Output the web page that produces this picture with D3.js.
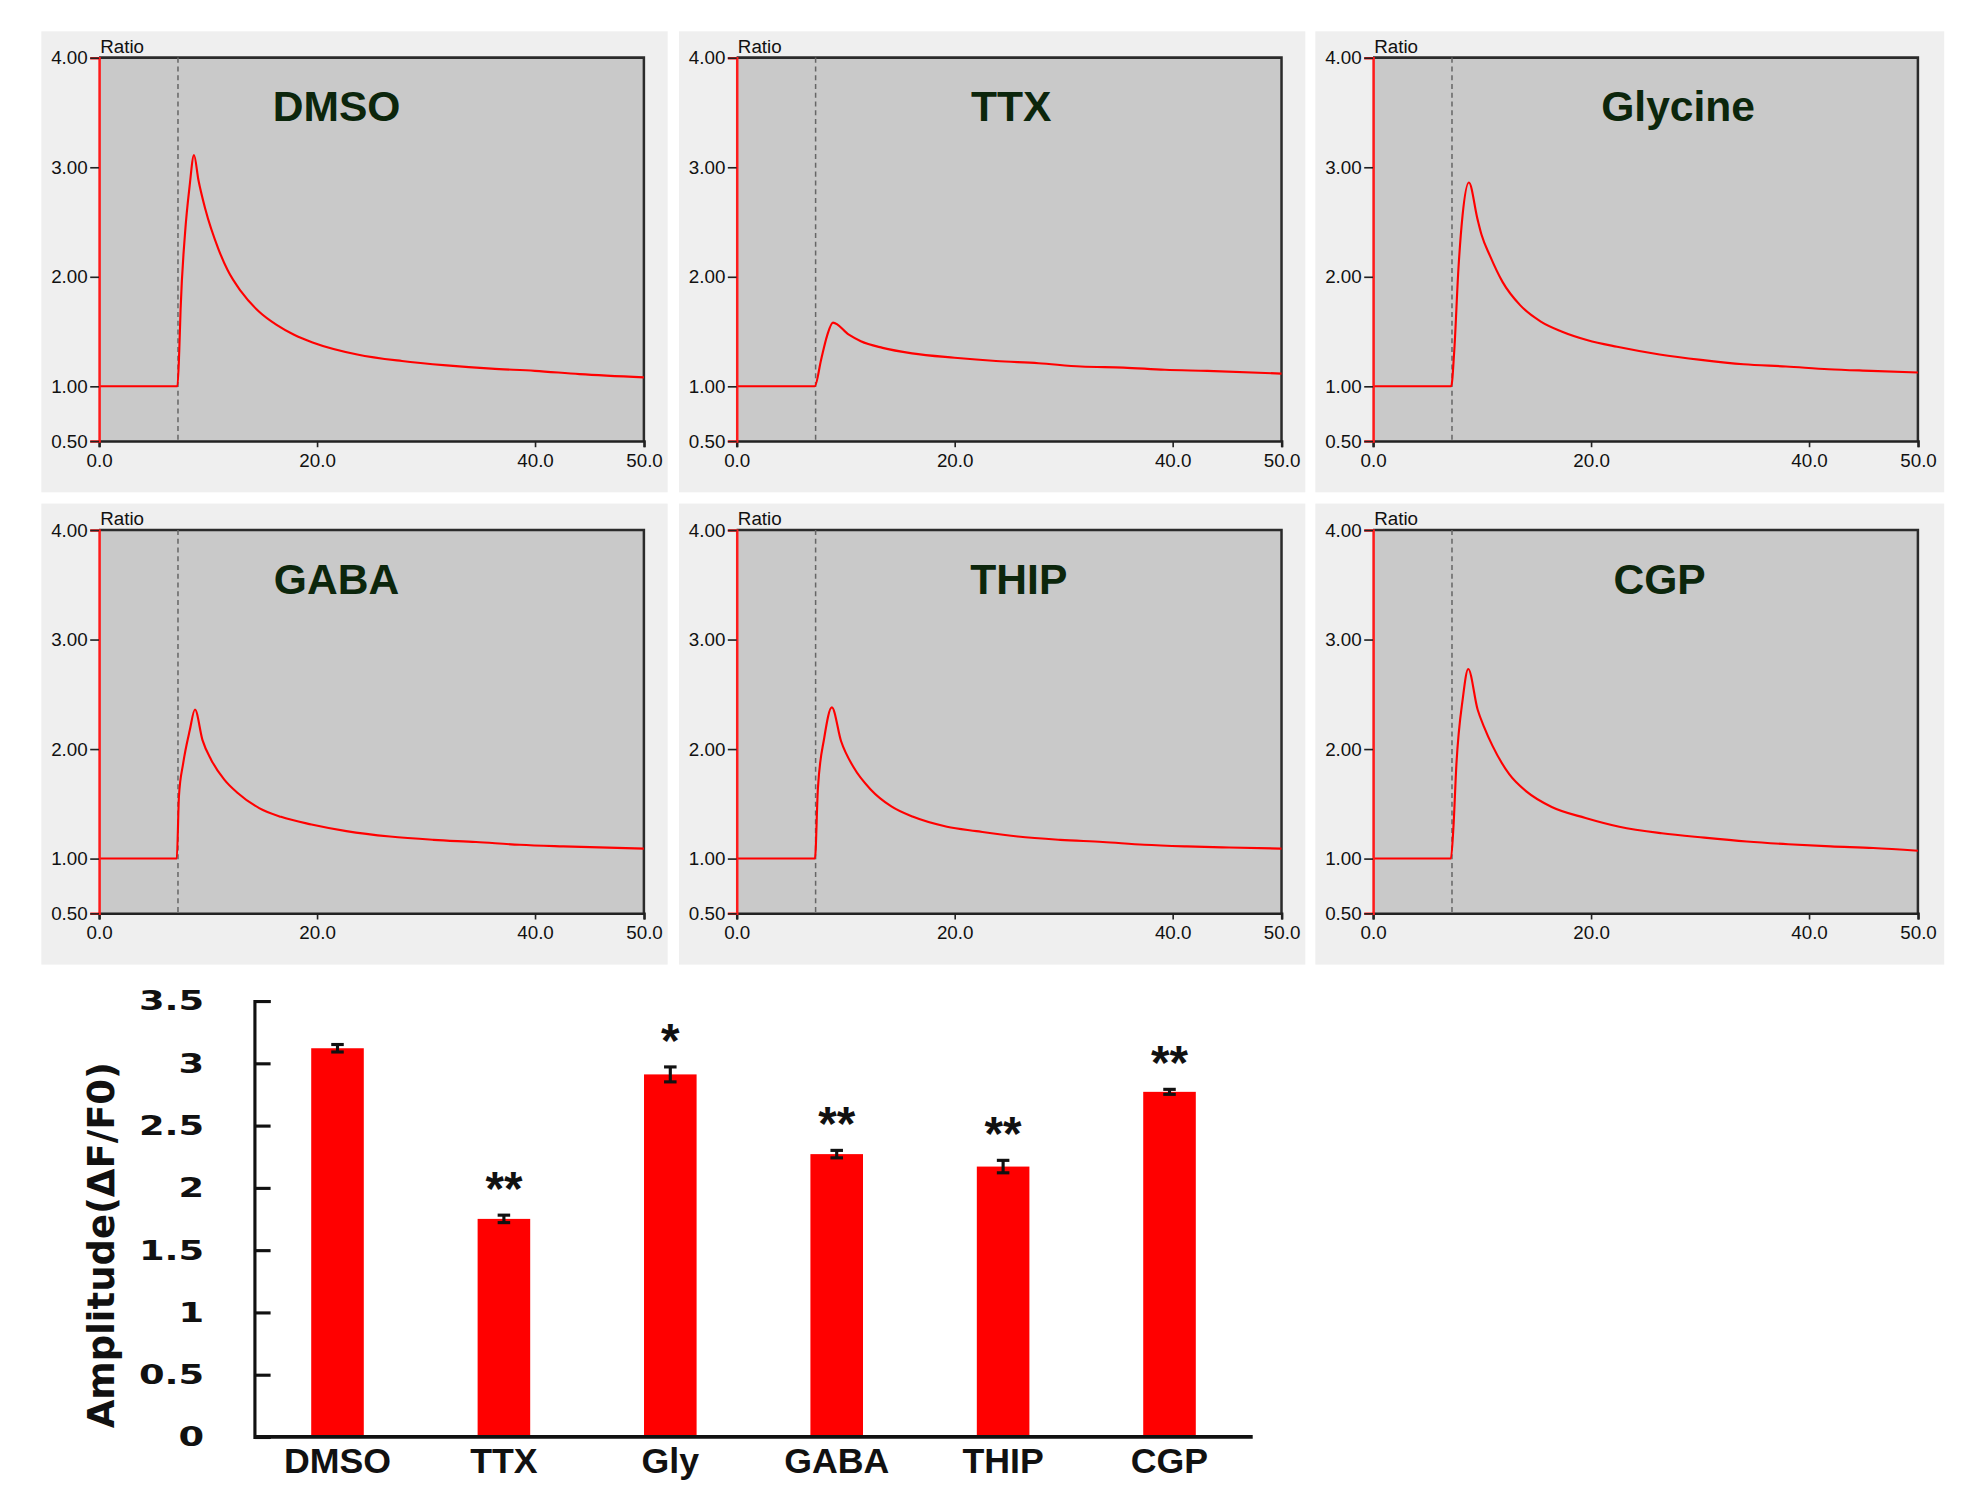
<!DOCTYPE html>
<html>
<head>
<meta charset="utf-8">
<script src="https://cdn.jsdelivr.net/npm/d3@7"></script>
<style>
  body { margin: 0; background: #fff; }
  svg { display: block; }
</style>
</head>
<body>
<div id="chart"></div>
<script>
// ---- data ----
const traceNames = ['DMSO', 'TTX', 'Glycine', 'GABA', 'THIP', 'CGP'];

// [time (s), ratio]
const dmsoTrace = [[0,1.0],[7.2,1.0],[7.37,1.33],[7.49,1.70],[7.9,2.40],[8.31,2.82],[8.72,3.11],[9.13,2.88],[9.75,2.62],[10.97,2.25],[11.8,2.06],[13.0,1.87],[14.7,1.68],[16.3,1.56],[17.9,1.47],[19.6,1.40],[23.7,1.29],[27.8,1.23],[31.9,1.19],[36.0,1.16],[40.0,1.14],[44.1,1.11],[50,1.08]];
const ttxTrace = [[0,1.0],[7.17,1.0],[7.75,1.24],[8.3,1.46],[8.84,1.58],[10.3,1.47],[11.4,1.41],[13.4,1.35],[16.1,1.30],[20.0,1.26],[23.8,1.23],[27.7,1.21],[31.6,1.18],[35.5,1.17],[39.3,1.15],[43.2,1.14],[50,1.115]];
const glyTrace = [[0,1.0],[7.18,1.0],[7.45,1.31],[7.84,2.07],[8.22,2.56],[8.8,2.86],[9.58,2.53],[9.97,2.38],[10.74,2.19],[11.9,1.95],[13.5,1.74],[15.4,1.59],[17.3,1.50],[19.7,1.42],[22.4,1.36],[26.3,1.29],[30.1,1.24],[34.0,1.20],[37.9,1.18],[41.8,1.155],[45.7,1.14],[50,1.125]];
const gabaTrace = [[0,1.0],[7.14,1.0],[7.34,1.57],[7.73,1.87],[8.33,2.17],[8.81,2.36],[9.5,2.08],[10.3,1.90],[11.5,1.72],[12.7,1.60],[14.7,1.46],[16.7,1.38],[19.5,1.31],[22.7,1.25],[26.7,1.20],[30.7,1.17],[34.6,1.15],[38.6,1.125],[42.6,1.11],[50,1.09]];
const thipTrace = [[0,1.0],[7.19,1.0],[7.46,1.64],[8.04,2.10],[8.74,2.38],[9.59,2.07],[10.75,1.83],[12.3,1.63],[14.2,1.475],[16.2,1.38],[19.3,1.29],[22.0,1.25],[25.8,1.20],[29.7,1.17],[33.6,1.15],[37.4,1.125],[41.3,1.11],[45.2,1.10],[50,1.09]];
const cgpTrace = [[0,1.0],[7.15,1.0],[7.38,1.28],[7.65,1.85],[8.24,2.46],[8.74,2.73],[9.6,2.36],[10.2,2.20],[10.96,2.03],[12.5,1.77],[14.1,1.61],[16.4,1.47],[19.5,1.37],[22.6,1.29],[26.5,1.23],[30.4,1.19],[34.3,1.155],[38.1,1.13],[42.0,1.11],[45.9,1.095],[50,1.07]];
const traces = [dmsoTrace, ttxTrace, glyTrace, gabaTrace, thipTrace, cgpTrace];

const stimTime = 7.25;
const traceXTicks = [0, 20, 40, 50];
const traceYTicks = [0.5, 1, 2, 3, 4];

// summary bar chart
const barCategories = ['DMSO', 'TTX', 'Gly', 'GABA', 'THIP', 'CGP'];
const barMeans = [3.12, 1.75, 2.91, 2.27, 2.17, 2.77];
const barErrors = [0.03, 0.03, 0.06, 0.03, 0.05, 0.02];
const barStars = ['', '**', '*', '**', '**', '**'];
const barTicks = [0, 0.5, 1, 1.5, 2, 2.5, 3, 3.5];

// ---- layout (drawn in a ~1567-wide box, scaled up to the window) ----
const W = 1567, H = 1567 * 1489 / 1963;
const panelX = [33, 542, 1050];
const panelY = [25, 402];
const titleAt = [21.8, 25.2, 28.0, 21.8, 25.9, 26.3]; // title centre, in seconds

const svg = d3.select('#chart')
  .append('svg')
  .attr('width', 1963)
  .attr('height', 1489)
  .attr('viewBox', `0 0 ${W} ${H}`);

const smallFont = '"Liberation Sans", Arial, sans-serif';

traces.forEach((trace, i) => {
  const col = i % 3, row = Math.floor(i / 3);
  const px = panelX[col], py = panelY[row];

  // panel background
  svg.append('rect')
    .attr('x', px).attr('y', py)
    .attr('width', col === 2 ? 502 : 500).attr('height', 368)
    .attr('fill', '#efefef');

  const pw = 435, ph = 306;
  const g = svg.append('g').attr('transform', `translate(${px + 46},${py + 21})`);

  const x = d3.scaleLinear().domain([0, 50]).range([0, pw]);
  const y = d3.scaleLinear().domain([0.5, 4]).range([ph, 0]);

  g.append('rect').attr('width', pw).attr('height', ph).attr('fill', '#c9c9c9');

  // top + right frame
  g.append('path')
    .attr('d', `M0,0H${pw}V${ph}`)
    .attr('fill', 'none').attr('stroke', '#2b2b2b').attr('stroke-width', 2);

  // stimulus marker
  g.append('line')
    .attr('x1', x(stimTime)).attr('x2', x(stimTime))
    .attr('y1', 0).attr('y2', ph)
    .attr('stroke', '#666').attr('stroke-width', 1.2)
    .attr('stroke-dasharray', '4,3');

  // trace
  const line = d3.line()
    .x(d => x(d[0]))
    .y(d => y(d[1]))
    .curve(d3.curveMonotoneX);
  g.append('path')
    .datum(trace)
    .attr('d', line)
    .attr('fill', 'none')
    .attr('stroke', '#ff0000')
    .attr('stroke-width', 1.7);

  // x axis
  const xa = g.append('g')
    .attr('transform', `translate(0,${ph})`)
    .call(d3.axisBottom(x).tickValues(traceXTicks).tickFormat(d3.format('.1f')).tickSize(5).tickPadding(5));
  xa.select('.domain').attr('stroke', '#222').attr('stroke-width', 2);
  xa.selectAll('.tick line').attr('stroke', '#222').attr('stroke-width', 1.3);
  xa.selectAll('text').attr('font-family', smallFont).attr('font-size', 15).attr('fill', '#111');

  // y axis (red spine)
  const ya = g.append('g')
    .call(d3.axisLeft(y).tickValues(traceYTicks).tickFormat(d3.format('.2f')).tickSize(7).tickPadding(2));
  ya.select('.domain').attr('stroke', '#ff1a1a').attr('stroke-width', 2);
  ya.selectAll('.tick line').attr('stroke', '#222').attr('stroke-width', 1.3);
  ya.selectAll('text').attr('font-family', smallFont).attr('font-size', 15).attr('fill', '#111');

  g.append('text')
    .attr('x', 1).attr('y', -4)
    .attr('font-family', smallFont).attr('font-size', 15).attr('fill', '#111')
    .text('Ratio');

  // panel title
  g.append('text')
    .attr('x', x(titleAt[i])).attr('y', 51)
    .attr('text-anchor', 'middle')
    .attr('font-family', smallFont).attr('font-weight', 'bold')
    .attr('font-size', 34).attr('fill', '#0c260c')
    .text(traceNames[i]);
});

// ---- bar chart ----
const bx0 = 203, bx1 = 1000, by0 = 1147, by1 = 799;

const xb = d3.scaleBand()
  .domain(barCategories)
  .range([bx0, bx1])
  .paddingInner(0.684)
  .paddingOuter(0.342);
const yb = d3.scaleLinear().domain([0, 3.5]).range([by0, by1]);

const bars = barCategories.map((c, i) => ({ name: c, mean: barMeans[i], err: barErrors[i], star: barStars[i] }));

svg.selectAll('rect.bar')
  .data(bars)
  .enter().append('rect')
  .attr('class', 'bar')
  .attr('x', d => xb(d.name))
  .attr('y', d => yb(d.mean))
  .attr('width', xb.bandwidth())
  .attr('height', d => by0 - yb(d.mean))
  .attr('fill', '#ff0000');

// error bars
const eb = svg.selectAll('g.err')
  .data(bars)
  .enter().append('g')
  .attr('class', 'err')
  .attr('stroke', '#111').attr('stroke-width', 2.5);
eb.append('line')
  .attr('x1', d => xb(d.name) + xb.bandwidth() / 2)
  .attr('x2', d => xb(d.name) + xb.bandwidth() / 2)
  .attr('y1', d => yb(d.mean - d.err))
  .attr('y2', d => yb(d.mean + d.err));
eb.append('line')
  .attr('x1', d => xb(d.name) + xb.bandwidth() / 2 - 5)
  .attr('x2', d => xb(d.name) + xb.bandwidth() / 2 + 5)
  .attr('y1', d => yb(d.mean + d.err))
  .attr('y2', d => yb(d.mean + d.err));
eb.append('line')
  .attr('x1', d => xb(d.name) + xb.bandwidth() / 2 - 5)
  .attr('x2', d => xb(d.name) + xb.bandwidth() / 2 + 5)
  .attr('y1', d => yb(d.mean - d.err))
  .attr('y2', d => yb(d.mean - d.err));

// significance stars
svg.selectAll('text.star')
  .data(bars)
  .enter().append('text')
  .attr('class', 'star')
  .attr('text-anchor', 'middle')
  .attr('x', d => xb(d.name) + xb.bandwidth() / 2)
  .attr('y', d => yb(d.mean + d.err) - 8)
  .attr('font-family', smallFont).attr('font-weight', 'bold')
  .attr('font-size', 38).attr('fill', '#111')
  .text(d => d.star);

// y axis, ticks point inward
const yAxisG = svg.append('g')
  .attr('transform', `translate(${bx0},0)`)
  .call(d3.axisLeft(yb).tickValues(barTicks).tickSize(-13).tickFormat(''));
yAxisG.select('.domain').attr('stroke', '#111').attr('stroke-width', 2.5);
yAxisG.selectAll('.tick line').attr('stroke', '#111').attr('stroke-width', 2.5);

// tick labels are a wide, stretched bold face
svg.append('g')
  .selectAll('g')
  .data(barTicks)
  .enter().append('g')
  .attr('transform', d => `translate(163,${yb(d)}) scale(1.4,1)`)
  .append('text')
  .attr('text-anchor', 'end')
  .attr('dy', '0.36em')
  .attr('font-family', '"DejaVu Sans", Verdana, sans-serif')
  .attr('font-weight', 'bold')
  .attr('font-size', 21)
  .attr('fill', '#111')
  .text(d => d3.format('~g')(d));

// x axis
const xAxisG = svg.append('g')
  .attr('transform', `translate(0,${by0})`)
  .call(d3.axisBottom(xb).tickSize(0).tickPadding(9));
xAxisG.select('.domain').attr('stroke', '#111').attr('stroke-width', 3).attr('d', `M${bx0},0H${bx1}`);
xAxisG.selectAll('text')
  .attr('font-family', smallFont).attr('font-weight', 'bold')
  .attr('font-size', 28.5).attr('fill', '#111');

// y label
svg.append('text')
  .attr('transform', `translate(91,994) rotate(-90)`)
  .attr('text-anchor', 'middle')
  .attr('font-family', '"DejaVu Sans", Verdana, sans-serif')
  .attr('font-weight', 'bold')
  .attr('font-size', 29.5)
  .attr('fill', '#111')
  .text('Amplitude(ΔF/F0)');
</script>
</body>
</html>
